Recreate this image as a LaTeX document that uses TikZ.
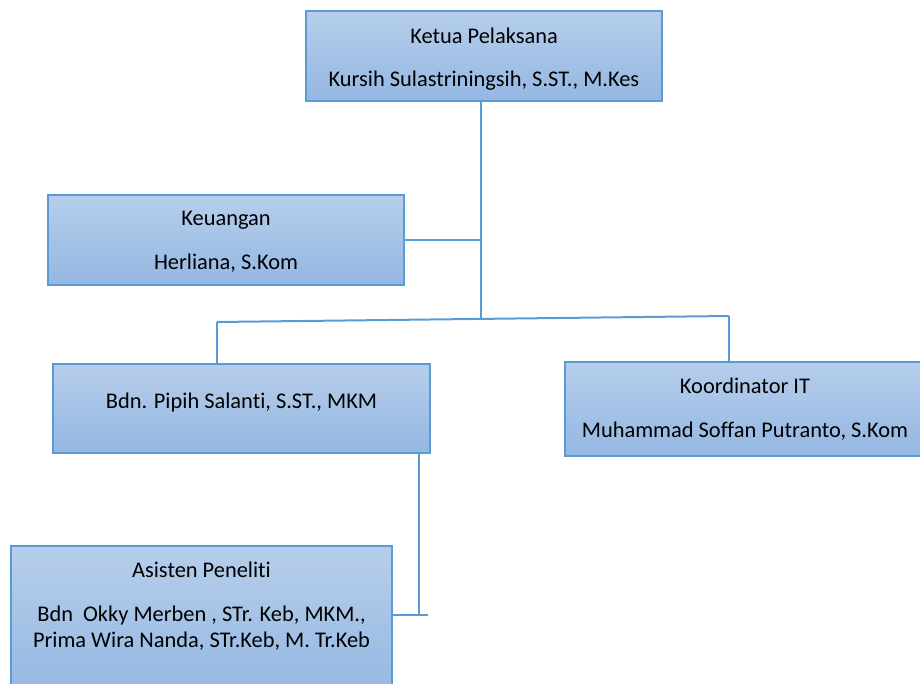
\documentclass[tikz,border=0pt]{standalone}
\usepackage{fontspec}
\setmainfont{Carlito}[Ligatures={NoCommon}]
\usetikzlibrary{positioning}

\definecolor{garisbiru}{RGB}{91,155,213}
\definecolor{isiatas}{RGB}{182,206,235}
\definecolor{isibawah}{RGB}{148,183,226}

% text block of a box, lifted inside the box
\newcommand{\isikotak}[2]{\raisebox{#1}[\height][\depth]{\begin{tabular}{@{}c@{}}#2\end{tabular}}}

\begin{document}
\begin{tikzpicture}[x=0.75pt, y=-0.75pt,
  jabatan/.style={draw=garisbiru, line width=1.6pt, top color=isiatas, bottom color=isibawah,
    inner sep=0pt, font=\fontsize{16.8}{19.5}\selectfont},
  garis/.style={draw=garisbiru, line width=1.5pt}]
\useasboundingbox (0,0) rectangle (920,684);

% boxes
\node[jabatan, minimum width=267pt, minimum height=67.5pt] (ketua) at (484,56)
  {\isikotak{-2.8pt}{Ketua Pelaksana\\[13.3pt]Kursih Sulastriningsih, S.ST., M.Kes}};
\node[jabatan, minimum width=267pt, minimum height=67.5pt] (keuangan) at (226,240)
  {\isikotak{-2pt}{Keuangan\\[13.3pt]Herliana, S.Kom}};
\node[jabatan, minimum width=282.75pt, minimum height=66.75pt] (pipih) at (241.5,408.5)
  {\isikotak{3.6pt}{Bdn. Pipih Salanti, S.ST., MKM}};
\node[jabatan, minimum width=270pt, minimum height=70.5pt] (koord) at (745,409)
  {\isikotak{-1.2pt}{Koordinator IT\\[13.3pt]Muhammad Soffan Putranto, S.Kom}};
\node[jabatan, minimum width=285.75pt, minimum height=115.5pt] (asisten) at (201.5,623)
  {\isikotak{11.6pt}{Asisten Peneliti\\[13.3pt]Bdn~ Okky Merben , STr. Keb, MKM.,\\Prima Wira Nanda, STr.Keb, M. Tr.Keb}};

% connectors
\coordinate (tengah) at (481,318);
\coordinate (kiri) at (217,322);
\coordinate (kanan) at (729,316);
\coordinate (siku) at (419,615);
\coordinate (ujung) at (428,615);

\draw[garis] (ketua.south -| tengah) -- (tengah);
\draw[garis] (keuangan.east) -- (keuangan.east -| tengah);
\draw[garis] (kiri) -- (kanan);
\draw[garis] (kiri) -- (kiri |- pipih.north);
\draw[garis] (kanan) -- (kanan |- koord.north);
\draw[garis] (siku |- pipih.south) -- (siku);
\draw[garis] (asisten.east |- ujung) -- (ujung);
\end{tikzpicture}
\end{document}
